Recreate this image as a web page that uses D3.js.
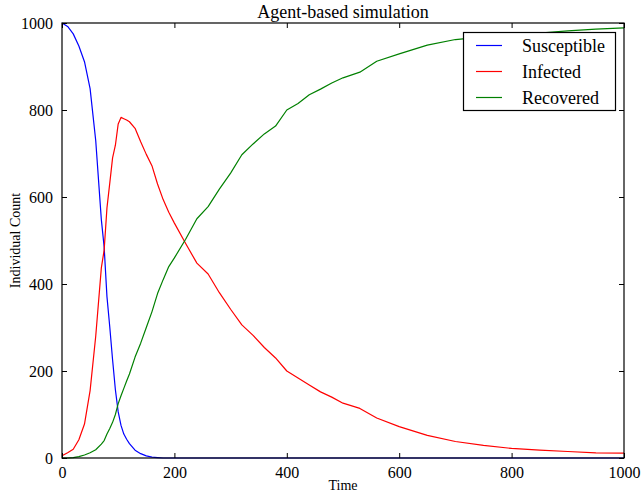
<!DOCTYPE html>
<html><head><meta charset="utf-8">
<script src="https://cdn.jsdelivr.net/npm/d3@7"></script>
<style>body{margin:0;background:#fff}svg{display:block}text{font-family:"Liberation Serif","Times New Roman",serif;fill:#000}</style>
</head><body><div id="chart"></div>
<script>
const times = [0,10,20,30,40,50,60,70,75,80,85,90,95,100,105,110,115,120,130,140,150,160,170,180,190,200,220,240,260,280,300,320,340,360,380,400,420,440,460,480,500,530,560,600,650,700,750,800,850,900,950,1000];
const susceptible = [1000,992,975,947,911,849,730,548,485,371,301,226,157,106,75,55,43,33,18,10,5,2,1,0,0,0,0,0,0,0,0,0,0,0,0,0,0,0,0,0,0,0,0,0,0,0,0,0,0,0,0,0];
const infected = [5,12,20,42,78,155,280,437,478,575,632,690,719,768,783,780,777,773,758,727,698,672,630,594,565,540,493,448,423,380,342,306,282,254,230,200,184,168,152,140,126,114,92,72,52,38,29,22,18,15,12,11];
const recovered = [0,0,1,3,7,12,19,32,40,55,68,82,100,125,143,160,177,193,232,264,300,336,378,410,440,460,503,550,578,618,655,697,722,745,763,800,815,835,848,862,874,887,912,929,949,962,968,973,977,982,986,989];
const seriesNames = ["Susceptible","Infected","Recovered"];
const seriesColors = ["#0000ff","#ff0000","#008000"];
const xTicks = [0,200,400,600,800,1000];
const yTicks = [0,200,400,600,800,1000];

const W=642,H=494, L=62,R=624,T=23,B=458;
const svg=d3.select("#chart").append("svg").attr("width",W).attr("height",H);
const x=d3.scaleLinear().domain([0,1000]).range([L,R]);
const y=d3.scaleLinear().domain([0,1000]).range([B,T]);

const data=[susceptible,infected,recovered];
const line=d3.line().x((d,i)=>x(times[i])).y(d=>y(d));
data.forEach((s,k)=>{
  svg.append("path").datum(s).attr("d",line).attr("fill","none")
    .attr("stroke",seriesColors[k]).attr("stroke-width",1.2).attr("stroke-linejoin","round");
});

// axes with inward ticks
const fs=16;
const ax=svg.append("g").attr("transform",`translate(0,${B})`).call(d3.axisBottom(x).tickValues(xTicks).tickSize(-5).tickPadding(9).tickFormat(d3.format("d")));
const axT=svg.append("g").attr("transform",`translate(0,${T})`).call(d3.axisTop(x).tickValues(xTicks).tickSize(-5).tickFormat(""));
const ay=svg.append("g").attr("transform",`translate(${L},0)`).call(d3.axisLeft(y).tickValues(yTicks).tickSize(-5).tickPadding(9).tickFormat(d3.format("d")));
const ayR=svg.append("g").attr("transform",`translate(${R},0)`).call(d3.axisRight(y).tickValues(yTicks).tickSize(-5).tickFormat(""));
[ax,axT,ay,ayR].forEach(g=>{
  g.select(".domain").remove();
  g.selectAll(".tick line").attr("stroke","#000").attr("stroke-width",1);
  g.selectAll("text").style("font-family",'"Liberation Serif",serif').style("font-size",fs+"px").attr("fill","#000");
});
ax.selectAll("text").attr("dy","0.71em");
svg.append("rect").attr("x",L).attr("y",T).attr("width",R-L).attr("height",B-T)
  .attr("fill","none").attr("stroke","#000").attr("stroke-width",1.2);

svg.append("text").attr("x",(L+R)/2).attr("y",18).attr("text-anchor","middle").style("font-size","18px").text("Agent-based simulation");
svg.append("text").attr("x",(L+R)/2).attr("y",490).attr("text-anchor","middle").style("font-size","14px").text("Time");
svg.append("text").attr("transform",`translate(20,${(T+B)/2}) rotate(-90)`).attr("text-anchor","middle").style("font-size","14px").text("Individual Count");

// legend
const lg=svg.append("g");
lg.append("rect").attr("x",463.5).attr("y",32.5).attr("width",152).attr("height",78).attr("fill","#fff").attr("stroke","#000").attr("stroke-width",1.2);
seriesNames.forEach((n,k)=>{
  const yy=45.5+k*26;
  lg.append("line").attr("x1",476).attr("x2",502).attr("y1",yy).attr("y2",yy).attr("stroke",seriesColors[k]).attr("stroke-width",1.2);
  lg.append("text").attr("x",522).attr("y",yy).attr("dy","0.35em").style("font-size","18px").text(n);
});
</script></body></html>
